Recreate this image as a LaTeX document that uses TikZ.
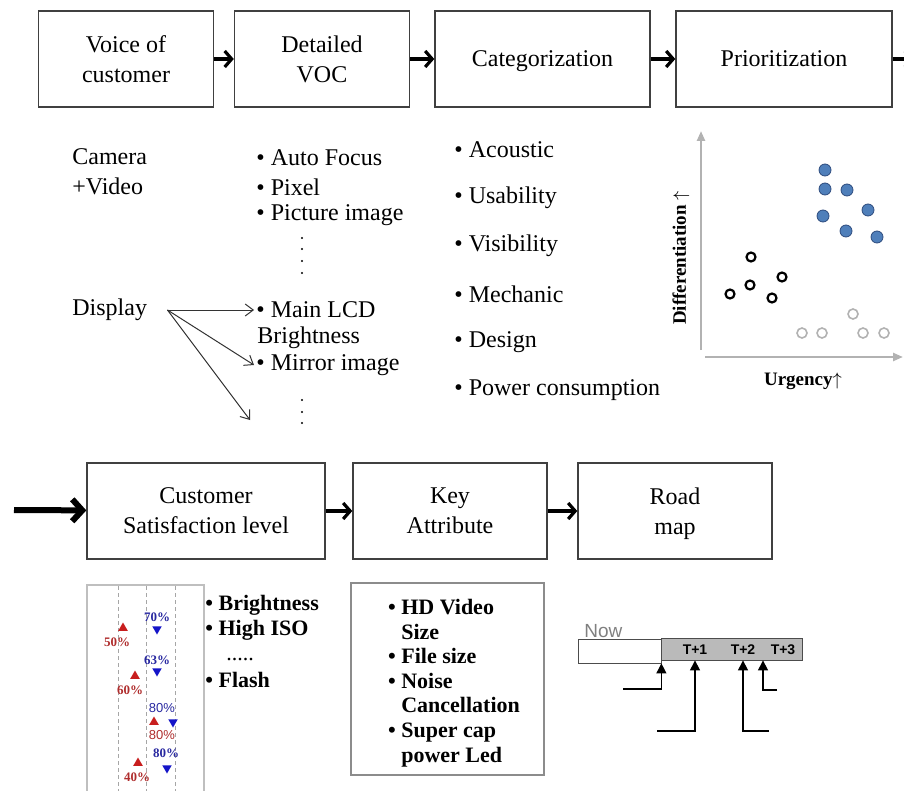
\documentclass[tikz,border=0pt]{standalone}
\usepackage{fontspec}
\setmainfont{Liberation Serif}
\setsansfont{Liberation Sans}
\usetikzlibrary{arrows.meta}
\usetikzlibrary{shapes.geometric}
\usetikzlibrary{calc}
\definecolor{dotblue}{RGB}{79,127,186}
\definecolor{dotedge}{RGB}{45,75,125}
\definecolor{pctblue}{RGB}{40,40,160}
\definecolor{pctred}{RGB}{175,45,45}
\definecolor{triblue}{RGB}{20,20,200}
\definecolor{trired}{RGB}{200,30,30}
\tikzstyle{vocflow}=[x=0.5pt, y=-0.5pt, font=\fontsize{12}{15}\selectfont]
\tikzstyle{stage}=[rectangle, draw=black!75, line width=0.7pt, align=center, minimum height=48pt, inner sep=2pt, text depth=0pt]
\tikzstyle{txt}=[inner sep=1pt, anchor=west, align=left]
\tikzstyle{flowarrow}=[line width=1.6pt, -{Straight Barb[length=3.5pt, width=8pt]}]
\tikzstyle{bigarrow}=[line width=3pt, -{Straight Barb[length=5pt, width=11pt]}]
\tikzstyle{thinarrow}=[line width=0.5pt, draw=black!80, -{Straight Barb[length=4pt, width=6pt]}]
\tikzstyle{axis}=[line width=1.2pt, draw=black!30, -{Triangle[length=5pt, width=4pt]}]
\tikzstyle{dothigh}=[circle, fill=dotblue, draw=dotedge, line width=0.4pt, minimum size=6pt, inner sep=0pt]
\tikzstyle{dotmid}=[circle, draw=black, line width=1.1pt, fill=white, minimum size=4.5pt, inner sep=0pt]
\tikzstyle{dotlow}=[circle, draw=black!30, line width=0.8pt, fill=white, minimum size=5pt, inner sep=0pt]
\tikzstyle{axlabel}=[font=\fontsize{9.5}{11}\selectfont\bfseries, inner sep=1pt]
\tikzstyle{triup}=[regular polygon, regular polygon sides=3, fill=trired, inner sep=0pt, minimum size=5.5pt]
\tikzstyle{tridown}=[regular polygon, regular polygon sides=3, shape border rotate=180, fill=triblue, inner sep=0pt, minimum size=5.5pt]
\tikzstyle{pct}=[font=\fontsize{6.5}{7}\selectfont\bfseries, inner sep=0pt]
\tikzstyle{pctlight}=[font=\sffamily\fontsize{6.5}{7}\selectfont, inner sep=0pt]
\tikzstyle{blist}=[inner sep=1pt, anchor=west, align=left, font=\fontsize{11}{12.3}\selectfont\bfseries]
\tikzstyle{tlabel}=[font=\sffamily\bfseries\fontsize{7}{8}\selectfont, inner sep=0pt]
\tikzstyle{uparrow}=[line width=0.6pt, -{Triangle[length=5pt, width=5pt]}]

\begin{document}
\begin{tikzpicture}[vocflow]
	\useasboundingbox (0,0) rectangle (904,791);

	%The top row of stages
	\draw (126,59) node[stage, minimum width=87.5pt] (voc) {Voice of\\customer};
	\draw (322,59) node[stage, minimum width=87.5pt] (dvoc) {Detailed\\VOC};
	\draw (542.5,59) node[stage, minimum width=107.5pt] (cat) {Categorization};
	\draw (784,59) node[stage, minimum width=108pt] (prio) {Prioritization};
	\coordinate (prio-out) at (914,59);

	\draw[flowarrow] (voc) -- (dvoc);
	\draw[flowarrow] (dvoc) -- (cat);
	\draw[flowarrow] (cat) -- (prio);
	\draw[flowarrow] (prio) -- (prio-out);

	%Voice of customer
	\draw (70,172) node[txt] (cam) {Camera\\+Video};
	\draw (70,310) node[txt] (disp) {Display};

	%Detailed VOC
	\draw (254,158) node[txt] (af) {\textbullet\ Auto Focus};
	\draw (254,187) node[txt] (pix) {\textbullet\ Pixel};
	\draw (254,215) node[txt] (pic) {\textbullet\ Picture image};
	\foreach \y in {238,249,261,273}
		\fill (302,\y) circle (0.6pt);
	\draw (254,310) node[txt] (lcd) {\textbullet\ Main LCD};
	\draw (255,338) node[txt] (bri) {Brightness};
	\draw (254,365) node[txt] (mir) {\textbullet\ Mirror image};
	\foreach \y in {400,412,423}
		\fill (302,\y) circle (0.6pt);
	\coordinate (more) at (250,420);

	\draw[thinarrow] ([xshift=9pt]disp.east) -- (lcd.west);
	\draw[thinarrow] ([xshift=9pt]disp.east) -- (mir.west);
	\draw[thinarrow] ([xshift=9pt]disp.east) -- (more);

	%Categories
	\foreach \t [count=\i] in {Acoustic, Usability, Visibility, Mechanic, Design, Power consumption}
		\draw (452,{102+48*\i}) node[txt] (cat-\i) {\textbullet\ \t};

	%Priority map
	\coordinate (yfoot) at (701,350);
	\coordinate (ytop) at (701,131);
	\coordinate (xfoot) at (705,357);
	\coordinate (xend) at (903,357);
	\draw[axis] (yfoot) -- (ytop);
	\draw[axis] (xfoot) -- (xend);
	\foreach \p in {(825,170),(825,189),(847,190),(823,216),(868,210),(846,231),(877,237)}
		\node[dothigh] at \p {};
	\foreach \p in {(751,257),(782,277),(750,285),(730,294),(772,298)}
		\node[dotmid] at \p {};
	\foreach \p in {(853,314),(802,333),(822,333),(863,333),(884,333)}
		\node[dotlow] at \p {};
	\draw (803,381) node[axlabel] (urg) {Urgency$\uparrow$};
	\draw (681,258) node[axlabel, rotate=90] (diff) {Differentiation $\uparrow$};

	%The bottom row of stages
	\coordinate (entry) at (14,510);
	\draw (206,511) node[stage, minimum width=119pt] (csl) {Customer\\Satisfaction level};
	\draw (450,511) node[stage, minimum width=97pt] (key) {Key\\Attribute};
	\draw (675,511) node[stage, minimum width=97pt] (road) {Road\\map};

	\draw[bigarrow] (entry) -- (csl);
	\draw[flowarrow] (csl) -- (key);
	\draw[flowarrow] (key) -- (road);

	%Satisfaction chart
	\draw[black!25, line width=0.6pt] (87,585) rectangle (204,800);
	\foreach \x in {118,146,175}
		\draw[black!35, dash pattern=on 2pt off 1.5pt] (\x,586) -- (\x,800);

	\node[tridown] at (157,629) {};
	\node[pct, text=pctblue] at (157,617) {70\%};
	\node[triup] at (123,628) {};
	\node[pct, text=pctred] at (117,642) {50\%};
	\node[tridown] at (157,671) {};
	\node[pct, text=pctblue] at (157,660) {63\%};
	\node[triup] at (135,676) {};
	\node[pct, text=pctred] at (130,690) {60\%};
	\node[pctlight, text=pctblue] at (162,708) {80\%};
	\node[tridown] at (173,722) {};
	\node[triup] at (154,722) {};
	\node[pctlight, text=pctred] at (162,735) {80\%};
	\node[pct, text=pctblue] at (166,753) {80\%};
	\node[tridown] at (167,768) {};
	\node[triup] at (138,763) {};
	\node[pct, text=pctred] at (137,777) {40\%};

	\draw (203,605) node[blist] (sat-1) {\textbullet\ Brightness};
	\draw (203,630) node[blist] (sat-2) {\textbullet\ High ISO};
	\draw (224,660) node[blist, font=\fontsize{11}{12}\selectfont] (sat-3) {.....};
	\draw (203,680) node[blist] (sat-4) {\textbullet\ Flash};

	%Key attributes
	\draw (447.5,679) node[draw=black!45, line width=0.6pt, minimum width=96.5pt, minimum height=96pt] (keyframe) {};
	\draw (454,683) node[blist, anchor=center] (keylist) {\textbullet\ HD Video\\\phantom{\textbullet\ }Size\\\textbullet\ File size\\\textbullet\ Noise\\\phantom{\textbullet\ }Cancellation\\\textbullet\ Super cap\\\phantom{\textbullet\ }power Led};

	%Road map
	\draw (619.5,651) node[draw=black!70, fill=white, minimum width=41.5pt, minimum height=12pt, inner sep=0pt] (nowbar) {};
	\draw (731.5,649) node[draw=black!70, fill=black!27, minimum width=70.5pt, minimum height=11pt, inner sep=0pt] (tbar) {};
	\draw (584,637) node[anchor=base west, inner sep=0pt, text=black!50, font=\sffamily\fontsize{9.5}{10}\selectfont] (now) {Now};
	\draw (695,650) node[tlabel] (t1) {T+1};
	\draw (743,650) node[tlabel] (t2) {T+2};
	\draw (783,650) node[tlabel] (t3) {T+3};
	\coordinate (t23) at ($(t2)!0.5!(t3)$);

	\coordinate (r1) at (623,689);
	\coordinate (r2) at (657,731);
	\coordinate (r3) at (769,731);
	\coordinate (r4) at (777,690);
	\draw[uparrow] (r1) -| (nowbar.south east);
	\draw[uparrow] (r2) -| (t1 |- tbar.south);
	\draw[uparrow] (r3) -| (t2 |- tbar.south);
	\draw[uparrow] (r4) -| (t23 |- tbar.south);
\end{tikzpicture}
\end{document}
